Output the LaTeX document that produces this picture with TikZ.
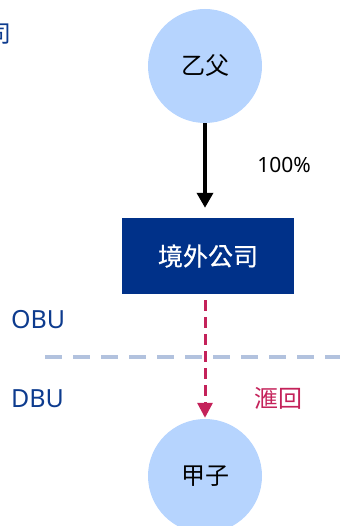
\documentclass[tikz,border=0pt]{standalone}
\usepackage{fontspec}
\setmainfont{Noto Sans}
\newfontfamily\cjk{Noto Sans CJK TC}
\newfontfamily\cjkmed[FakeBold=0.6]{Noto Sans CJK TC}
\usetikzlibrary{arrows.meta}
\definecolor{navy}{HTML}{003189}
\definecolor{circ}{HTML}{B6D4FE}
\definecolor{lbl}{HTML}{0D3B8E}
\definecolor{sep}{HTML}{B2C2DE}
\definecolor{crim}{HTML}{C4225A}
\begin{document}
\begin{tikzpicture}[x=1pt,y=-1pt,
  person/.style={circle,fill=circ,minimum size=114pt,inner sep=0pt,text=black,
    font=\cjk\fontsize{24}{28}\selectfont},
  boxnode/.style={rectangle,fill=navy,minimum width=172pt,minimum height=76pt,inner sep=0pt,
    text=white,font=\cjkmed\fontsize{25}{29}\selectfont},
  zone/.style={text=lbl,font=\fontsize{25}{30}\selectfont,anchor=west,inner sep=0pt},
  sepline/.style={draw=sep,line width=4pt,dash pattern=on 17pt off 11pt},
  ownarrow/.style={draw=black,line width=3.5pt,-{Triangle[length=15pt,width=16pt]}},
  flowarrow/.style={draw=crim,line width=3pt,dash pattern=on 11pt off 6pt,
    -{Triangle[length=15pt,width=15pt]}}
]
\useasboundingbox (0,0) rectangle (340,526);
\node[anchor=east,inner sep=0pt,text=lbl,font=\cjk\fontsize{24}{28}\selectfont] (title) at (12,34) {司};
\node[person] (yi) at (205,66) {乙父};
\node[boxnode] (off) at (208,256) {境外公司};
\node[person] (jia) at (205,476) {甲子};
\node[zone] (obu) at (11,320) {OBU};
\node[zone] (dbu) at (11,399) {DBU};
\coordinate (s1) at (45,357);
\coordinate (s2) at (340,357);
\draw[sepline] (s1) -- (s2);
\draw[ownarrow] (yi.south) -- ([yshift=10pt]yi.south |- off.north);
\node[inner sep=0pt,font=\fontsize{21}{25}\selectfont] (pct) at (284,165) {100\%};
\draw[flowarrow] ([yshift=-6pt]jia.north |- off.south) -- ([yshift=1pt]jia.north);
\node[inner sep=0pt,text=crim,font=\cjk\fontsize{24}{28}\selectfont] (hui) at (278,398) {滙回};
\end{tikzpicture}
\end{document}
